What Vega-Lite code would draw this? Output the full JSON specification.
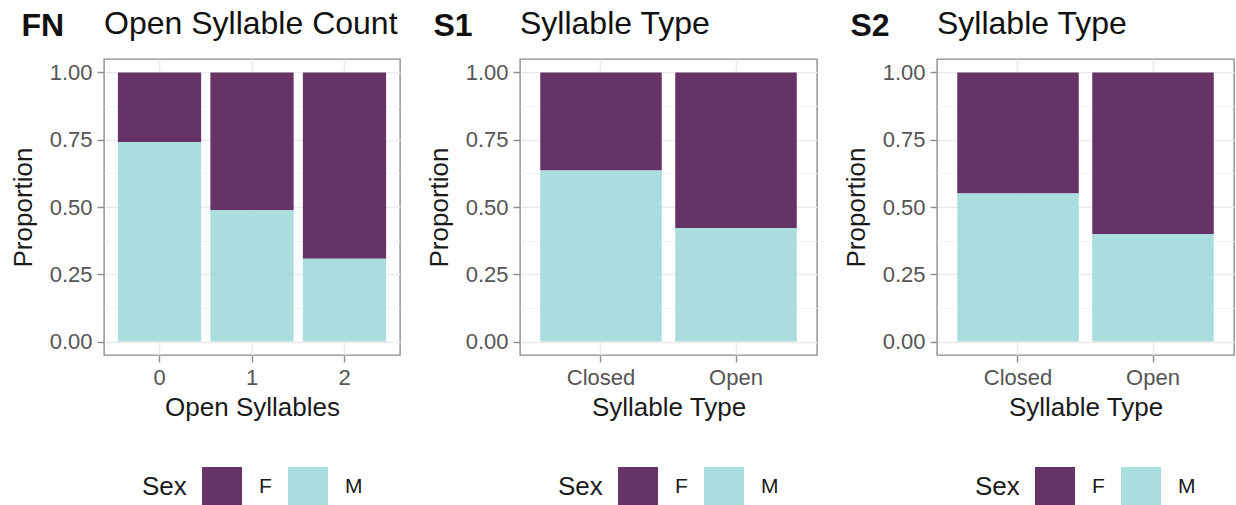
{
  "$schema": "https://vega.github.io/schema/vega-lite/v6.json",
  "background": "white",
  "padding": {"left": 9, "top": 7, "right": 2, "bottom": 0},
  "autosize": {"type": "pad"},
  "datasets": {
    "d": [
      {"panel": "FN", "cat": "0", "sex": "F", "prop": 0.258},
      {"panel": "FN", "cat": "0", "sex": "M", "prop": 0.742},
      {"panel": "FN", "cat": "1", "sex": "F", "prop": 0.512},
      {"panel": "FN", "cat": "1", "sex": "M", "prop": 0.488},
      {"panel": "FN", "cat": "2", "sex": "F", "prop": 0.692},
      {"panel": "FN", "cat": "2", "sex": "M", "prop": 0.308},
      {"panel": "S1", "cat": "Closed", "sex": "F", "prop": 0.364},
      {"panel": "S1", "cat": "Closed", "sex": "M", "prop": 0.636},
      {"panel": "S1", "cat": "Open", "sex": "F", "prop": 0.578},
      {"panel": "S1", "cat": "Open", "sex": "M", "prop": 0.422},
      {"panel": "S2", "cat": "Closed", "sex": "F", "prop": 0.45},
      {"panel": "S2", "cat": "Closed", "sex": "M", "prop": 0.55},
      {"panel": "S2", "cat": "Open", "sex": "F", "prop": 0.6},
      {"panel": "S2", "cat": "Open", "sex": "M", "prop": 0.4}
    ]
  },
  "data": {"name": "d"},
  "spacing": 24,
  "hconcat": [
    {
      "title": {"text": "FN", "fontWeight": "bold", "anchor": "start", "frame": "bounds", "offset": 0, "dx": 12, "dy": 36},
      "vconcat": [
        {
          "width": 296, "height": 296,
          "title": {"text": "Open Syllable Count", "frame": "group"},
          "transform": [{"filter": "datum.panel === 'FN'"}],
          "layer": [
            {
              "mark": {"type": "rule", "opacity": 0},
              "encoding": {
                "y": {"datum": 0, "type": "quantitative",
                  "scale": {"domain": [-0.05, 1.05], "nice": false, "zero": false},
                  "axis": {"orient": "right", "values": [0.125, 0.375, 0.625, 0.875], "grid": true, "gridColor": "#F3F3F3", "gridWidth": 0.9, "labels": false, "ticks": false, "domain": false, "title": null}}
              }
            },
            {
              "mark": {"type": "bar"},
              "encoding": {
                "x": {"field": "cat", "type": "nominal", "sort": ["0", "1", "2"],
                  "scale": {"paddingInner": 0.1, "paddingOuter": 0.15},
                  "axis": {"title": "Open Syllables", "labelAngle": 0, "grid": true, "titlePadding": 6}},
                "y": {"field": "prop", "type": "quantitative", "stack": "zero",
                  "scale": {"domain": [-0.05, 1.05], "nice": false, "zero": false},
                  "axis": {"orient": "left", "title": "Proportion", "values": [0, 0.25, 0.5, 0.75, 1], "format": ".2f", "grid": true, "titlePadding": 13}},
                "color": {"field": "sex", "type": "nominal", "title": "Sex",
                  "scale": {"domain": ["F", "M"], "range": ["#663366", "#AADDDD"]}},
                "order": {"field": "sex", "sort": "descending"}
              }
            }
          ],
          "resolve": {"axis": {"y": "independent"}}
        }
      ],
      "resolve": {"legend": {"color": "independent"}}
    },
    {
      "title": {"text": "S1", "fontWeight": "bold", "anchor": "start", "frame": "bounds", "offset": 0, "dx": 8, "dy": 36},
      "vconcat": [
        {
          "width": 297, "height": 296,
          "title": {"text": "Syllable Type", "frame": "group"},
          "transform": [{"filter": "datum.panel === 'S1'"}],
          "layer": [
            {
              "mark": {"type": "rule", "opacity": 0},
              "encoding": {
                "y": {"datum": 0, "type": "quantitative",
                  "scale": {"domain": [-0.05, 1.05], "nice": false, "zero": false},
                  "axis": {"orient": "right", "values": [0.125, 0.375, 0.625, 0.875], "grid": true, "gridColor": "#F3F3F3", "gridWidth": 0.9, "labels": false, "ticks": false, "domain": false, "title": null}}
              }
            },
            {
              "mark": {"type": "bar"},
              "encoding": {
                "x": {"field": "cat", "type": "nominal", "sort": ["Closed", "Open"],
                  "scale": {"paddingInner": 0.1, "paddingOuter": 0.15},
                  "axis": {"title": "Syllable Type", "labelAngle": 0, "grid": true, "titlePadding": 6}},
                "y": {"field": "prop", "type": "quantitative", "stack": "zero",
                  "scale": {"domain": [-0.05, 1.05], "nice": false, "zero": false},
                  "axis": {"orient": "left", "title": "Proportion", "values": [0, 0.25, 0.5, 0.75, 1], "format": ".2f", "grid": true, "titlePadding": 13}},
                "color": {"field": "sex", "type": "nominal", "title": "Sex",
                  "scale": {"domain": ["F", "M"], "range": ["#663366", "#AADDDD"]}},
                "order": {"field": "sex", "sort": "descending"}
              }
            }
          ],
          "resolve": {"axis": {"y": "independent"}}
        }
      ],
      "resolve": {"legend": {"color": "independent"}}
    },
    {
      "title": {"text": "S2", "fontWeight": "bold", "anchor": "start", "frame": "bounds", "offset": 0, "dx": 8, "dy": 36},
      "vconcat": [
        {
          "width": 297, "height": 296,
          "title": {"text": "Syllable Type", "frame": "group"},
          "transform": [{"filter": "datum.panel === 'S2'"}],
          "layer": [
            {
              "mark": {"type": "rule", "opacity": 0},
              "encoding": {
                "y": {"datum": 0, "type": "quantitative",
                  "scale": {"domain": [-0.05, 1.05], "nice": false, "zero": false},
                  "axis": {"orient": "right", "values": [0.125, 0.375, 0.625, 0.875], "grid": true, "gridColor": "#F3F3F3", "gridWidth": 0.9, "labels": false, "ticks": false, "domain": false, "title": null}}
              }
            },
            {
              "mark": {"type": "bar"},
              "encoding": {
                "x": {"field": "cat", "type": "nominal", "sort": ["Closed", "Open"],
                  "scale": {"paddingInner": 0.1, "paddingOuter": 0.15},
                  "axis": {"title": "Syllable Type", "labelAngle": 0, "grid": true, "titlePadding": 6}},
                "y": {"field": "prop", "type": "quantitative", "stack": "zero",
                  "scale": {"domain": [-0.05, 1.05], "nice": false, "zero": false},
                  "axis": {"orient": "left", "title": "Proportion", "values": [0, 0.25, 0.5, 0.75, 1], "format": ".2f", "grid": true, "titlePadding": 13}},
                "color": {"field": "sex", "type": "nominal", "title": "Sex",
                  "scale": {"domain": ["F", "M"], "range": ["#663366", "#AADDDD"]}},
                "order": {"field": "sex", "sort": "descending"}
              }
            }
          ],
          "resolve": {"axis": {"y": "independent"}}
        }
      ],
      "resolve": {"legend": {"color": "independent"}}
    }
  ],
  "resolve": {"legend": {"color": "independent"}, "scale": {"x": "independent"}},
  "config": {
    "font": "Liberation Sans",
    "view": {"stroke": "#8C8C8C", "strokeWidth": 1.4},
    "axis": {
      "domain": false, "gridColor": "#EBEBEB", "gridWidth": 1.6,
      "tickColor": "#8C8C8C", "tickWidth": 1.4, "tickSize": 7,
      "labelFont": "Liberation Sans", "labelFontSize": 22, "labelColor": "#555555", "labelPadding": 5,
      "titleFont": "Liberation Sans", "titleFontSize": 26, "titleFontWeight": "normal", "titleColor": "#1A1A1A"
    },
    "title": {"font": "Liberation Sans", "fontSize": 32, "fontWeight": "normal", "anchor": "start", "color": "#111111", "baseline": "alphabetic", "offset": 18},
    "legend": {
      "orient": "bottom", "direction": "horizontal", "titleOrient": "left",
      "symbolType": "square", "symbolSize": 1600, "symbolStrokeWidth": 0, "symbolOpacity": 1,
      "labelFont": "Liberation Sans", "labelFontSize": 21, "labelColor": "#1A1A1A", "labelOffset": 17,
      "titleFont": "Liberation Sans", "titleFontSize": 26, "titleFontWeight": "normal", "titleColor": "#1A1A1A",
      "titleAnchor": "middle", "titleBaseline": "middle", "titlePadding": 15,
      "columnPadding": 16, "offset": 47,
      "layout": {"bottom": {"anchor": "middle"}}
    }
  }
}
